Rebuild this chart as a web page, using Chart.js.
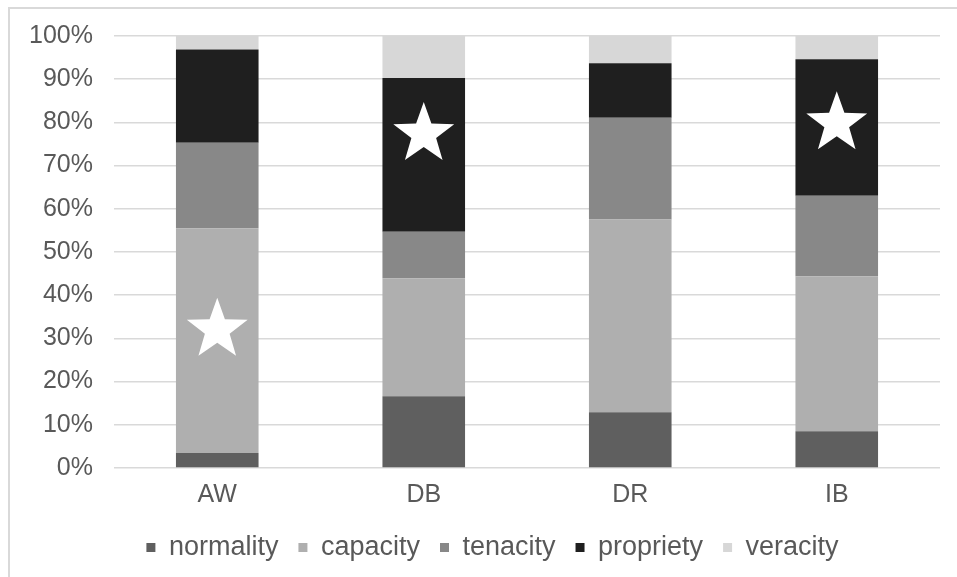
<!DOCTYPE html>
<html>
<head>
<meta charset="utf-8">
<script src="https://cdn.jsdelivr.net/npm/chart.js@4/dist/chart.umd.min.js"></script>
<style>
  html, body { margin: 0; padding: 0; background: #ffffff; }
  #frame { position: absolute; left: 8px; top: 7px; width: 949px; height: 570px;
           border-left: 2px solid #d9d9d9; border-top: 2px solid #d9d9d9; box-sizing: border-box; }
  #wrap { position: absolute; left: 0; top: 0; width: 957px; height: 577px; }
</style>
</head>
<body>
<div id="frame"></div>
<div id="wrap"><canvas id="c" width="957" height="577"></canvas></div>
<script>
const categories = ['AW', 'DB', 'DR', 'IB'];
const seriesNames = ['normality', 'capacity', 'tenacity', 'propriety', 'veracity'];
const normality = [3.5, 16.6, 12.9, 8.5];
const capacity  = [52.0, 27.3, 44.6, 35.9];
const tenacity  = [19.8, 10.8, 23.6, 18.6];
const propriety = [21.6, 35.6, 12.6, 31.6];
const veracity  = [3.1, 9.7, 6.3, 5.4];
const yTicks = [0, 10, 20, 30, 40, 50, 60, 70, 80, 90, 100];
// star markers: category and percentage position of the star centre
const starCategories = ['AW', 'DB', 'IB'];
const starValues = [32.0, 77.3, 79.8];

const colors = ['#5f5f5f', '#afafaf', '#888888', '#1f1f1f', '#d7d7d7'];
const seriesData = [normality, capacity, tenacity, propriety, veracity];

const starPlugin = {
  id: 'stars',
  afterDatasetsDraw(chart) {
    const ctx = chart.ctx;
    const xs = chart.scales.x, ys = chart.scales.y;
    for (let i = 0; i < starCategories.length; i++) {
      const cx = xs.getPixelForValue(categories.indexOf(starCategories[i]));
      const cy = ys.getPixelForValue(starValues[i]);
      const R = 32, r = 13;
      ctx.save();
      ctx.beginPath();
      for (let k = 0; k < 10; k++) {
        const rad = (k % 2 === 0) ? R : r;
        const a = -Math.PI / 2 + k * Math.PI / 5;
        const px = cx + rad * Math.cos(a), py = cy + rad * Math.sin(a);
        if (k === 0) ctx.moveTo(px, py); else ctx.lineTo(px, py);
      }
      ctx.closePath();
      ctx.fillStyle = '#ffffff';
      ctx.fill();
      ctx.restore();
    }
  }
};

new Chart(document.getElementById('c'), {
  type: 'bar',
  data: {
    labels: categories,
    datasets: seriesNames.map((n, i) => ({
      label: n,
      data: seriesData[i],
      backgroundColor: colors[i],
      borderWidth: 0,
      barPercentage: 0.4,
      categoryPercentage: 1.0
    }))
  },
  options: {
    responsive: false,
    animation: false,
    layout: { padding: { left: 45, right: 17, top: 36, bottom: 6 } },
    scales: {
      x: {
        stacked: true,
        grid: { display: false },
        border: { display: false },
        ticks: { color: '#595959', font: { family: 'Liberation Sans, Arial, sans-serif', size: 25 }, padding: 4 },
        afterFit: (s) => { s.height = 46; }
      },
      y: {
        stacked: true,
        min: 0, max: 100,
        afterBuildTicks: (s) => { s.ticks = yTicks.map(v => ({ value: v })); },
        grid: { color: '#d9d9d9', lineWidth: 1.5, drawTicks: false },
        border: { display: false },
        ticks: { color: '#595959', font: { family: 'Liberation Sans, Arial, sans-serif', size: 25 }, padding: 21,
                 callback: (v) => v + '%' },
        afterFit: (s) => { s.width = 69; s._computeLabelArea = () => null; }
      }
    },
    plugins: {
      legend: {
        position: 'bottom',
        labels: { color: '#595959', boxWidth: 9, boxHeight: 9, padding: 20,
                  font: { family: 'Liberation Sans, Arial, sans-serif', size: 27 } }
      },
      tooltip: { enabled: false },
      title: { display: false }
    }
  },
  plugins: [starPlugin]
});
</script>
</body>
</html>
